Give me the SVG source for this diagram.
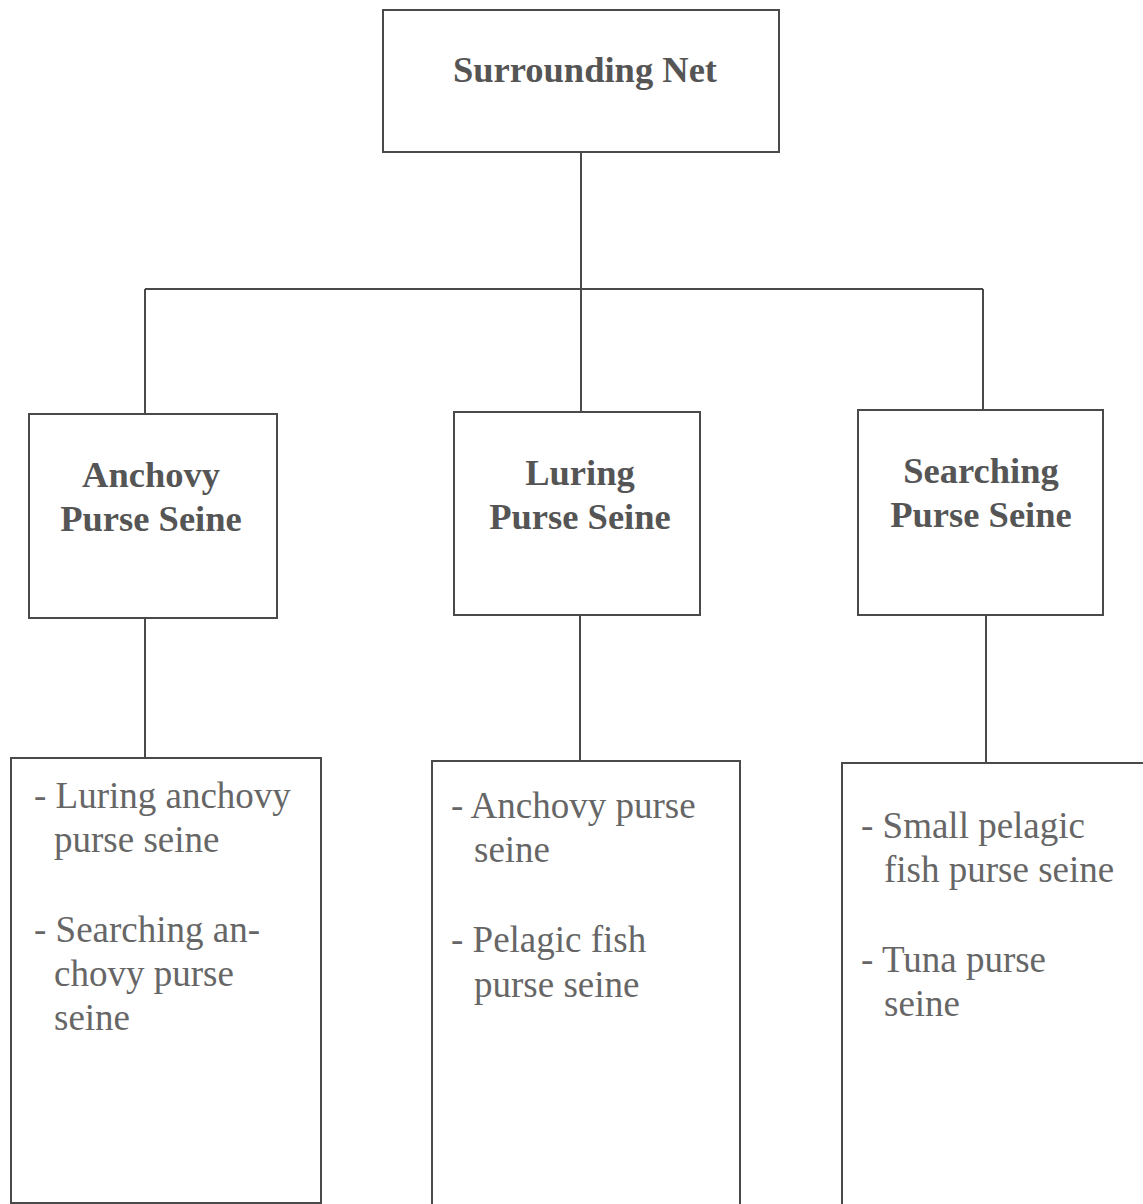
<svg xmlns="http://www.w3.org/2000/svg" width="1143" height="1204" viewBox="0 0 1143 1204">
  <style>
    .box { fill: #ffffff; stroke: #4a4a4a; stroke-width: 2; }
    .wire { fill: none; stroke: #4a4a4a; stroke-width: 2; }
    .head { font-family: "Liberation Serif", "Times New Roman", serif; font-weight: bold; font-size: 36.5px; fill: #555555; text-anchor: middle; }
    .item { font-family: "Liberation Serif", "Times New Roman", serif; font-size: 37px; fill: #666666; }
  </style>
  <rect width="1143" height="1204" fill="#ffffff"/>

  <g id="connectors">
    <path class="wire" d="M581 152 V289"/>
    <path class="wire" d="M145 289 H983"/>
    <path class="wire" d="M145 289 V414"/>
    <path class="wire" d="M581 289 V412"/>
    <path class="wire" d="M983 289 V410"/>
    <path class="wire" d="M145 618 V758"/>
    <path class="wire" d="M580 615 V761"/>
    <path class="wire" d="M986 615 V763"/>
  </g>

  <g id="surrounding-net">
    <rect class="box" x="383" y="10" width="396" height="142"/>
    <text class="head" x="585" y="82" font-size="35">Surrounding Net</text>
  </g>

  <g id="anchovy-purse-seine">
    <rect class="box" x="29" y="414" width="248" height="204"/>
    <text class="head" x="151" y="487">Anchovy</text>
    <text class="head" x="151" y="531">Purse Seine</text>
  </g>

  <g id="luring-purse-seine">
    <rect class="box" x="454" y="412" width="246" height="203"/>
    <text class="head" x="580" y="485">Luring</text>
    <text class="head" x="580" y="529">Purse Seine</text>
  </g>

  <g id="searching-purse-seine">
    <rect class="box" x="858" y="410" width="245" height="205"/>
    <text class="head" x="981" y="483">Searching</text>
    <text class="head" x="981" y="527">Purse Seine</text>
  </g>

  <g id="anchovy-types">
    <rect class="box" x="11" y="758" width="310" height="445"/>
    <text class="item" x="34" y="808">- Luring anchovy</text>
    <text class="item" x="54" y="852">purse seine</text>
    <text class="item" x="34" y="942">- Searching an-</text>
    <text class="item" x="54" y="986">chovy purse</text>
    <text class="item" x="54" y="1030">seine</text>
  </g>

  <g id="luring-types">
    <rect class="box" x="432" y="761" width="308" height="460"/>
    <text class="item" x="451" y="818">- Anchovy purse</text>
    <text class="item" x="474" y="862">seine</text>
    <text class="item" x="451" y="952">- Pelagic fish</text>
    <text class="item" x="474" y="997">purse seine</text>
  </g>

  <g id="searching-types">
    <rect class="box" x="842" y="763" width="320" height="460"/>
    <text class="item" x="861" y="838">- Small pelagic</text>
    <text class="item" x="884" y="882">fish purse seine</text>
    <text class="item" x="861" y="972">- Tuna purse</text>
    <text class="item" x="884" y="1016">seine</text>
  </g>
</svg>
